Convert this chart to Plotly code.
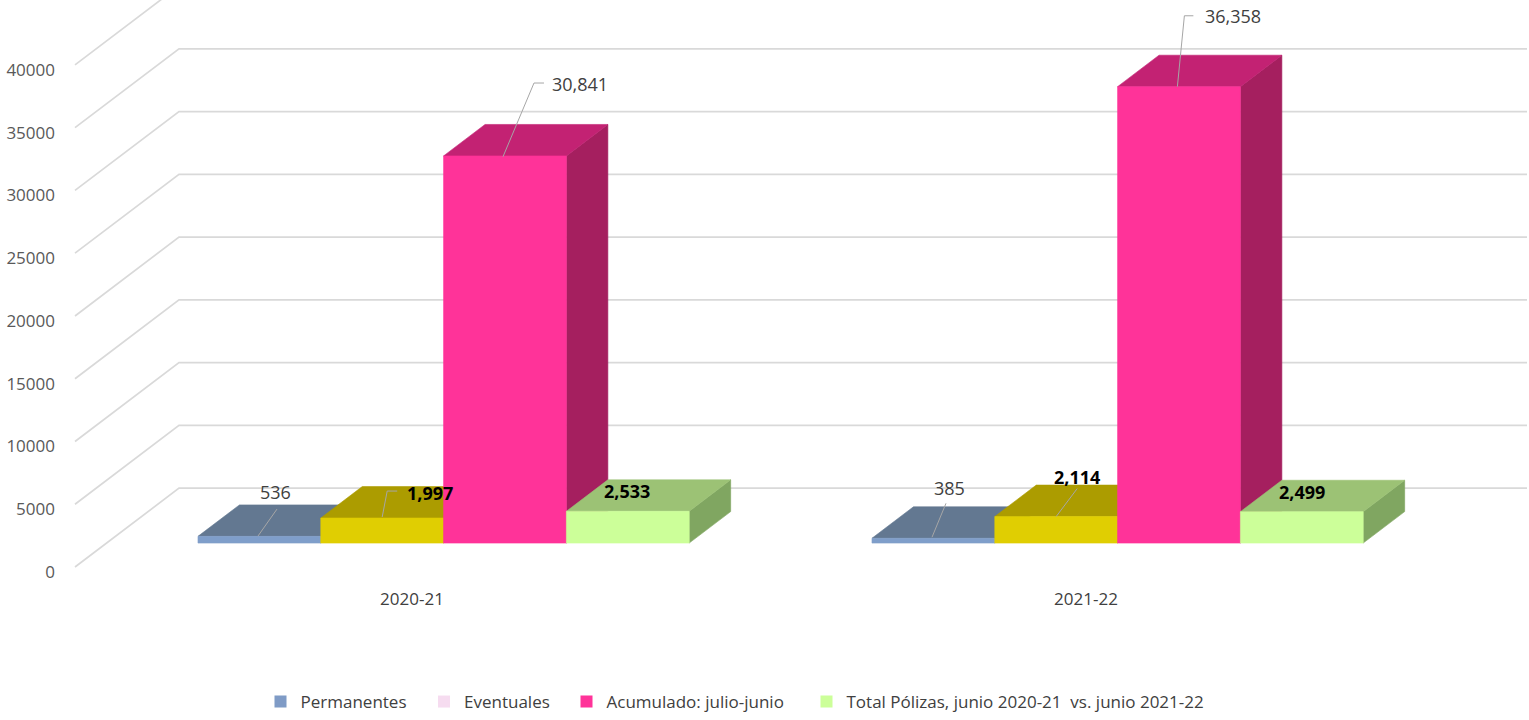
import plotly.graph_objects as go

# ---------------- data ----------------
categories = ["2020-21", "2021-22"]
series_names = ["Permanentes", "Eventuales", "Acumulado: julio-junio",
                "Total Pólizas, junio 2020-21  vs. junio 2021-22"]
permanentes = [536, 385]
eventuales = [1997, 2114]
acumulado = [30841, 36358]
total_polizas = [2533, 2499]
y_ticks = [0, 5000, 10000, 15000, 20000, 25000, 30000, 35000, 40000]

series_values = [permanentes, eventuales, acumulado, total_polizas]

# ---------------- styles ----------------
front_colors = ["#7F9ECA", "#E0CE02", "#FF3399", "#CCFF99"]
top_colors = ["#637891", "#AC9C00", "#C32273", "#9CC275"]
side_colors = ["#53667D", "#958700", "#A51F5F", "#80A661"]
legend_colors = ["#7F9BC6", "#F6DCF0", "#FF3399", "#CCFF99"]
label_bold = [False, True, False, True]
FONT = "Open Sans"

# ---------------- projection calibration (pixels) ----------------
W, H = 1529, 720
ML, MB = 60, 135
PX_PER_CAT = 674.0          # pixels per category on the front plane
CAT0_PX = 412.0             # pixel x of first category centre (front plane)
PX_PER_UNIT = 0.012575      # pixels per value unit
ZERO_PX = 568.0             # pixel y of value 0 on the front plane
DEPTH_PX = (104.0, 79.0)    # full floor depth offset in pixels (right, up)
DXU = DEPTH_PX[0] / PX_PER_CAT
DYU = DEPTH_PX[1] / PX_PER_UNIT
BAR_W = 122.8 / PX_PER_CAT  # bar width in category units
D0, D1 = 24.0 / 79.0, 55.5 / 79.0   # bar front/back depth fractions

x_range = [(ML - CAT0_PX) / PX_PER_CAT, (W - CAT0_PX) / PX_PER_CAT]
y_range = [-((H - MB) - ZERO_PX) / PX_PER_UNIT, ZERO_PX / PX_PER_UNIT]


def proj(x, v, d):
    return x + d * DXU, v + d * DYU


def poly(pts):
    xs, ys = [], []
    for x, v, d in pts:
        px, py = proj(x, v, d)
        xs.append(px)
        ys.append(py)
    xs.append(xs[0])
    ys.append(ys[0])
    return xs, ys


fig = go.Figure()

# ---------------- walls (gridlines) ----------------
wall_color = "#D9D9D9"
left_x = -0.5
right_x = len(categories) - 0.5
for v in y_ticks:
    xa, ya = proj(left_x, v, 0)
    xb, yb = proj(left_x, v, 1)
    xc, yc = proj(right_x, v, 1)
    fig.add_trace(go.Scatter(x=[xa, xb, xc], y=[ya, yb, yc], mode="lines",
                             line=dict(color=wall_color, width=1.7),
                             hoverinfo="skip", showlegend=False))

# ---------------- bars (painter's order) ----------------
for i, cat in enumerate(categories):
    for j, vals in enumerate(series_values):
        v = vals[i]
        xl = i + (j - 2) * BAR_W
        xr = xl + BAR_W
        faces = [
            ([(xr, 0, D0), (xr, 0, D1), (xr, v, D1), (xr, v, D0)], side_colors[j]),
            ([(xl, v, D0), (xr, v, D0), (xr, v, D1), (xl, v, D1)], top_colors[j]),
            ([(xl, 0, D0), (xr, 0, D0), (xr, v, D0), (xl, v, D0)], front_colors[j]),
        ]
        for pts, col in faces:
            xs, ys = poly(pts)
            fig.add_trace(go.Scatter(x=xs, y=ys, mode="lines", fill="toself",
                                     fillcolor=col, line=dict(color=col, width=0.6),
                                     hoverinfo="skip", showlegend=False))

# ---------------- data labels (pixel offsets from bar front-top centre) ----------------
label_offsets = [
    [(16.6, -44.3), (47.8, -24.9), (75.0, -72.0), (-1.0, -20.0)],
    [(16.6, -50.0), (21.0, -40.0), (53.6, -71.0), (0.6, -19.6)],
]
leader_offsets = [
    [[(-1.4, -0.3), (17.6, -27.3)],
     [(0.0, -1.0), (5.0, -27.0), (15.0, -27.0)],
     [(-2.0, 0.8), (29.0, -73.0), (39.0, -73.0)],
     None],
    [[(-1.4, -1.0), (12.6, -35.0)],
     [(0.0, 0.0), (21.0, -28.0)],
     [(-1.6, 0.0), (5.4, -71.0), (14.4, -71.0)],
     None],
]


def off(x, y, dpx):
    return x + dpx[0] / PX_PER_CAT, y - dpx[1] / PX_PER_UNIT


for i, cat in enumerate(categories):
    for j, vals in enumerate(series_values):
        v = vals[i]
        xl = i + (j - 2) * BAR_W
        cx, cy = proj(xl + BAR_W / 2, v, D0)
        lead = leader_offsets[i][j]
        if lead:
            pts = [off(cx, cy, p) for p in lead]
            fig.add_trace(go.Scatter(x=[p[0] for p in pts], y=[p[1] for p in pts],
                                     mode="lines", line=dict(color="#A6A6A6", width=1),
                                     hoverinfo="skip", showlegend=False))
        tx, ty = off(cx, cy, label_offsets[i][j])
        fig.add_annotation(
            x=tx, y=ty, text=f"{v:,}", showarrow=False,
            xanchor="center", yanchor="middle",
            font=dict(family=FONT, size=18,
                      color="#000000" if label_bold[j] else "#404040",
                      weight="bold" if label_bold[j] else "normal"))

# ---------------- legend (one legend per entry, placed like the original) ----------------
legend_marker_px = [284.5, 448.0, 590.5, 830.5]
legend_y_px = 703.0
legend_ids = ["legend", "legend2", "legend3", "legend4"]
for j, name in enumerate(series_names):
    fig.add_trace(go.Bar(x=[None], y=[None], name=name,
                         marker=dict(color=legend_colors[j], line=dict(width=0)),
                         legend=legend_ids[j], showlegend=True))

legend_layouts = {}
for j, lid in enumerate(legend_ids):
    legend_layouts[lid] = dict(
        x=(legend_marker_px[j] - 16 - ML) / (W - ML),
        y=((H - MB) - legend_y_px) / (H - MB),
        xanchor="left", yanchor="middle", orientation="h",
        bgcolor="rgba(0,0,0,0)", borderwidth=0, itemwidth=30, indentation=-8,
        font=dict(family=FONT, size=17, color="#404040"))

fig.update_layout(
    width=W, height=H,
    margin=dict(l=ML, r=0, t=0, b=MB, pad=0),
    paper_bgcolor="white", plot_bgcolor="white",
    font=dict(family=FONT, color="#595959"),
    barmode="overlay",
    xaxis=dict(range=x_range, tickmode="array", tickvals=list(range(len(categories))),
               ticktext=categories, showgrid=False, zeroline=False, showline=False,
               ticks="", ticklabelstandoff=3,
               tickfont=dict(family=FONT, size=17, color="#404040")),
    yaxis=dict(range=y_range, tickmode="array", tickvals=y_ticks,
               ticktext=[str(t) for t in y_ticks], showgrid=False, zeroline=False,
               showline=False, ticks="", ticklabelshift=5, ticklabelstandoff=4,
               tickfont=dict(family=FONT, size=17, color="#595959")),
    showlegend=True,
    **legend_layouts,
)

fig.write_html("out.html", config={"displayModeBar": False},
               post_script="document.body.style.margin='0';")
